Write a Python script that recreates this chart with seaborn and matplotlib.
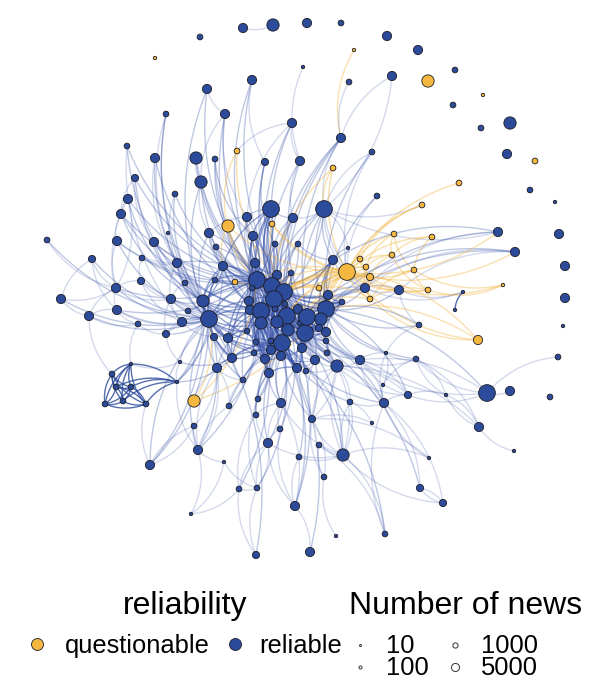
import numpy as np
import pandas as pd
import matplotlib
matplotlib.use("Agg")
import matplotlib.pyplot as plt
from matplotlib.collections import LineCollection
import seaborn as sns

# ─── Style ────────────────────────────────────────────────────────────────────
ORANGE      = "#F4B740"
BLUE        = "#2C4B9B"
EDGE_BLUE   = "#3A55AA"
EDGE_ORANGE = "#F2B23A"
OUTLINE     = "#1C1C24"
TEXT        = "#000000"

# ─── Nodes (layout position in px, number of news) ────────────────────────────
node_x = [
    243, 273, 307, 200, 155, 303, 252, 207, 225, 166,   # 1-10
    292, 127, 237, 155, 196, 215, 265, 300, 135, 201,   # 11-20
    175, 128, 341, 387, 354, 418, 455, 349, 392, 428,   # 21-30
    483, 453, 481, 510, 341, 372, 507, 535, 333, 459,   # 31-40
    530, 377, 121, 271, 247, 293, 228, 272,  47, 117,   # 41-50
    154, 209, 253, 168, 275, 298,  92, 142, 216, 177,   # 51-60
    223, 255, 235, 215, 141, 185, 257, 277, 291, 116,   # 61-70
    272, 284, 252,  61, 171, 203, 274, 249, 117, 188,   # 71-80
    250, 261, 275, 285, 298, 209, 287,  89, 182, 138,   # 81-90
    261, 277, 300, 247, 288, 166, 214, 228, 271, 282,   # 91-100
    256, 305, 254, 271, 232, 265, 180, 217, 297, 269,   # 101-110
    243, 131, 112, 177, 194, 105, 123, 146, 116, 131,   # 111-120
    281, 315, 327, 229, 258, 281, 194, 256, 280, 198,   # 121-130
    268, 150, 224, 299, 239, 257, 295, 191, 256, 408,   # 131-140
    384, 446, 487, 510, 550, 350, 312, 372, 479, 319,   # 141-150
    343, 514, 429, 324, 420, 443, 336, 385, 310, 324,   # 151-160
    422, 555, 394, 432, 498, 559, 348, 515, 333, 360,   # 161-170
    392, 347, 366, 370, 414, 565, 319, 365, 399, 428,   # 171-180
    463, 503, 328, 370, 342, 326, 455, 565, 307, 321,   # 181-190
    319, 326, 419, 563, 326, 478, 386, 337, 360, 416,   # 191-200
    558, 383, 306, 302,                                 # 201-204
]
node_y = [
     28,  25,  23,  37,  58,  67,  80,  89, 114, 114,
    123, 146, 151, 158, 158, 159, 162, 161, 178, 182,
    194, 199,  23,  36,  50,  50,  70,  82,  76,  81,
     95, 105, 128, 123, 138, 152, 154, 161, 168, 183,
    190, 196, 214, 209, 217, 218, 226, 224, 240, 241,
    242, 233, 236, 233, 244, 244, 259, 258, 247, 263,
    266, 263, 282, 280, 281, 283, 280, 275, 273, 288,
    286, 292, 288, 299, 299, 301, 299, 301, 310, 311,
    310, 311, 309, 304, 309, 319, 316, 316, 322, 324,
    323, 322, 323, 331, 330, 334, 337, 338, 341, 343,
    342, 333, 353, 350, 358, 359, 362, 368, 368, 373,
    380, 364, 374, 382, 401, 404, 401, 404, 387, 387,
    356, 360, 353, 406, 399, 403, 426, 415, 429, 450,
    443, 465, 462, 457, 489, 488, 506, 514, 555, 395,
    403, 395, 393, 391, 397, 402, 419, 423, 427, 445,
    455, 451, 458, 477, 488, 503, 536, 534, 552, 209,
    205, 202, 234, 237, 232, 234, 248, 252, 260, 259,
    255, 272, 267, 277, 270, 266, 288, 288, 290, 290,
    292, 285, 295, 299, 302, 309, 310, 298, 317, 319,
    328, 332, 325, 326, 341, 340, 353, 366, 360, 359,
    357, 385, 371, 348,
]
node_news = [
     500, 1500,  500,   60,   10,   10,  500,  500,  500,   60,
     500,   60,   60,  500, 1500,   60,  200,  500,  200, 1500,
      60,  500,   60,  500,   10,  500,   60,   60,  500, 1500,
      10,   60,   60, 1500,  500,   60,  500,   60,   60,   60,
      60,   60,  500, 4000,  500,  500, 1500,   60,   60,  500,
     500,  500,  500,   10,   60,   60,  200,   60,   60,  500,
     500,  500,   60,   60,  200,   60, 4000,  500,   60,  500,
    4000, 4000,   60,  500,  500, 1500, 4000,  500,  500,   60,
     500, 4000,   60,   60,  500, 4000, 4000,  500,  500,   60,
    1500, 1500,   60,   60, 1500,  200,  200,  500,   60, 4000,
      60, 4000,   60,  500,  500,  500,   10,  500,  500,  500,
      60,   10,   60,   10, 1500,   60,   60,   60,   60,   60,
     500,  500,   60,   60,   60,  500,   60,   60,   60,  500,
     500,  500,   10,   60,   60,   60,  500,   10,  200,  200,
     500,   10, 4000,  500,   60,   60,  200,   10,  500,   60,
    1500,   10,   10,   60,  200,  200,   10,   60,  500, 4000,
      60,   10,   60,   60,  500,  500,   10,  500,  500,   60,
      60, 4000,   60,  200,   60,  500,   60,  500,  500,   60,
      10,   10,  500,   60,   60, 4000,   10,  500, 4000, 1500,
     200,  500,   60,   10,   60,  500,   10, 1500,  500,   60,
      60,   10,   60,  500,
]
questionable_ids = [5, 13, 25, 30, 31, 38, 39, 40, 47, 48, 63, 115, 161, 163,
                    164, 170, 171, 172, 173, 174, 175, 177, 180, 182, 184, 196]

# ─── Links (node -> linked nodes) ─────────────────────────────────────────────
links = {
    1: [2], 6: [18], 7: [17, 72, 67], 8: [9, 67, 86], 9: [20, 82, 45, 71],
    10: [60, 86, 76], 11: [18, 45, 13, 72, 77], 12: [76, 89, 67],
    13: [47, 72], 14: [76, 60, 82], 15: [20, 71, 67], 16: [67, 53, 77],
    17: [72, 55, 87], 18: [46, 77, 189], 19: [43, 67, 51, 86],
    20: [52, 71, 86, 82], 21: [60, 67, 76], 22: [43, 70, 76, 67],
    25: [35], 28: [35], 29: [35], 35: [160, 189, 72, 77, 87],
    36: [160, 172, 186], 39: [172, 160, 71], 40: [172], 42: [172, 186],
    43: [50, 76, 67, 82], 44: [71, 67, 45, 46, 53, 77, 61, 87, 82, 72],
    45: [53, 67, 52, 77], 46: [72, 77, 160, 55, 87], 47: [172, 61, 67, 71],
    48: [172, 174, 72], 49: [70, 86], 50: [70, 60, 86, 67], 51: [60, 76, 67, 82],
    52: [61, 67, 76, 82], 53: [67, 71, 62, 82], 54: [60], 55: [71, 72],
    56: [72, 77, 169], 57: [70, 74, 79, 86], 58: [65, 60, 67], 59: [61, 67],
    60: [75, 76, 86, 67, 66, 82], 61: [67, 76, 71, 86, 82], 62: [67, 71, 72, 77, 68, 73, 78],
    63: [172, 67], 64: [76, 67, 86], 65: [70, 75, 89, 82], 66: [76, 86, 75],
    67: [71, 72, 77, 82, 86, 87, 91, 92, 95, 100, 102, 189, 78, 81, 62, 68, 73,
         98, 53, 61, 64, 59, 44, 76, 60, 52, 45, 94, 101, 104, 105, 106, 110],
    68: [71, 72, 77, 87, 82], 69: [72, 77, 189], 70: [79, 88, 75, 86, 22, 67],
    71: [72, 77, 82, 87, 91, 92, 95, 100, 102, 186, 189, 169, 183, 76, 53, 55,
         68, 69, 83, 84, 85, 93, 99, 104, 106, 109, 121, 204, 185, 178],
    72: [77, 82, 87, 92, 95, 100, 102, 186, 189, 190, 183, 160, 56, 69, 85,
         93, 99, 101, 104, 109, 121, 122, 123, 204, 185, 169, 178],
    73: [77, 82], 74: [70, 88, 86], 75: [76, 86, 89, 96, 82],
    76: [86, 82, 77, 91, 98, 61, 100, 105],
    77: [82, 87, 91, 92, 95, 100, 102, 189, 186, 192, 198, 73, 78, 81, 83, 84,
         94, 99, 101, 103, 104, 106, 109, 110, 121, 204],
    78: [82, 86, 91, 81, 94], 79: [88, 89, 86, 90, 67], 80: [86, 76], 81: [82, 91, 98],
    82: [87, 91, 92, 95, 100, 102, 86, 104, 106, 105, 189, 94, 97, 98, 99,
         101, 103, 108, 110, 111, 121],
    83: [87, 92], 84: [87, 72], 85: [87, 189, 102],
    86: [91, 98, 100, 105, 108, 89, 97, 130, 80, 94, 96, 103, 107, 111, 132],
    87: [92, 95, 100, 102, 189, 190, 186, 198, 109, 93, 99, 104, 106, 121,
         122, 123, 183, 191, 192, 195, 204],
    88: [90, 113, 86], 89: [86, 96, 97], 90: [96, 112],
    91: [92, 100, 104, 106, 95, 94, 101],
    92: [95, 100, 102, 109, 104], 93: [95, 102], 94: [98, 104],
    95: [100, 102, 109, 189, 121, 106], 96: [107, 86], 97: [105, 108],
    98: [105, 104, 100, 94, 97], 99: [100, 104],
    100: [102, 104, 106, 109, 110, 121, 131, 126, 103, 105, 108, 111, 122,
          124, 125, 128, 141, 146, 147],
    101: [104, 100],
    102: [189, 109, 122, 198, 190, 147, 123, 183, 185, 186, 191, 192, 195,
          199, 203, 204],
    103: [106, 105], 104: [106, 110, 121, 103, 99], 105: [108, 111, 86, 103],
    106: [110, 111, 121, 103], 107: [114, 105], 108: [111, 130, 115],
    109: [122, 110, 126, 121, 204], 110: [125, 126, 128], 111: [124],
    112: [116, 117, 118, 119, 120, 113, 107],
    113: [116, 117, 119, 120, 118],
    114: [118, 105, 86, 76, 61, 130, 112, 120, 117, 119],
    115: [86, 172, 67], 116: [117, 119, 120, 118], 117: [118, 119, 120],
    118: [119, 120, 132], 119: [120], 121: [126, 122, 204],
    122: [198, 147, 189], 123: [198, 190], 124: [108, 130, 82],
    125: [110, 128, 136, 77], 126: [128, 129, 131, 151], 127: [108, 130, 132],
    128: [131, 135], 129: [131, 137, 87], 130: [133, 108, 86, 82],
    131: [136, 135, 137, 151, 100], 132: [86, 76, 127], 133: [136],
    134: [137, 151, 100], 135: [136, 139, 82], 136: [139, 131, 100],
    137: [126, 100, 87], 138: [133, 130, 135], 139: [86],
    140: [141, 143, 198, 199, 186], 141: [199, 153, 158, 198, 102],
    142: [140, 149, 200], 143: [144, 199, 186],
    146: [198, 151, 141], 147: [151, 154, 102, 198], 148: [147, 146],
    149: [142, 152, 200, 198], 150: [151, 154], 151: [146, 198, 100, 156, 87],
    153: [147, 151], 154: [157, 147], 155: [156, 141, 102], 156: [155, 141],
    158: [150, 151, 100], 159: [137, 100],
    160: [169, 172, 178, 189, 161, 29, 165, 186, 71, 72], 161: [172, 170],
    163: [172, 173, 175, 171], 164: [172, 171, 175], 165: [169, 178, 186],
    167: [169, 160, 172], 168: [178, 179, 183, 186],
    169: [189, 183, 178, 186, 190], 170: [172, 174, 173],
    171: [172, 173, 174, 180],
    172: [173, 174, 177, 184, 180, 175, 71, 72, 77, 87, 186, 189, 196,
          182, 168, 165, 67, 179, 183, 82, 102],
    173: [174, 184, 177, 77], 174: [184, 177, 180, 72], 175: [180, 184, 182],
    177: [72, 77, 87, 71], 178: [183, 186, 179, 181, 189], 179: [181, 193, 178],
    180: [184, 182], 181: [187], 183: [186, 189, 190, 185], 184: [177, 196, 87],
    185: [186, 190, 192],
    186: [189, 190, 191, 192, 198, 199, 195, 183, 185, 178, 179, 193, 197, 200],
    189: [190, 191, 192, 198, 122, 183, 185, 195, 199, 203, 204, 123],
    190: [192, 195, 199, 191, 204], 191: [192],
    192: [195, 198, 199, 204], 193: [186, 197], 195: [198, 199], 196: [172, 186],
    197: [199, 200, 141], 198: [199, 151, 140, 147], 199: [200, 140, 141, 143],
    200: [202, 142, 143], 201: [143], 202: [141, 197], 203: [198, 122],
    204: [102, 189, 87],
}
strong_nodes = [112, 113, 114, 116, 117, 118, 119, 120, 181, 187]
core_nodes = [44, 53, 55, 61, 62, 64, 67, 68, 69, 71, 72, 73, 76, 77, 78, 81,
              82, 83, 84, 85, 86, 87, 91, 92, 93, 94, 95, 98, 99, 100, 101,
              102, 103, 104, 105, 106, 109, 110, 121, 169, 183, 185, 186, 189,
              190, 191, 192, 204]

# ─── Frames ───────────────────────────────────────────────────────────────────
nodes = pd.DataFrame({"x": node_x, "y": node_y, "news": node_news})
nodes["id"] = np.arange(1, len(nodes) + 1)
nodes["reliability"] = np.where(nodes["id"].isin(questionable_ids),
                                "questionable", "reliable")

fig = plt.figure(figsize=(6.14, 6.8), dpi=100)
sns.set_style("white")
plt.rcParams["font.family"] = ["Liberation Sans", "DejaVu Sans"]
ax = fig.add_axes([0, 0, 1, 1])

# curved edges (quadratic arcs)
t = np.linspace(0, 1, 26)[:, None]
segs, cols = [], []
for src, targets in links.items():
    p0 = nodes.loc[src - 1, ["x", "y"]].to_numpy(float)
    q = nodes.loc[src - 1, "reliability"] == "questionable"
    for dst in targets:
        p2 = nodes.loc[dst - 1, ["x", "y"]].to_numpy(float)
        d = p2 - p0
        ctrl = (p0 + p2) / 2 + 0.2 * np.array([-d[1], d[0]])
        segs.append((1 - t) ** 2 * p0 + 2 * (1 - t) * t * ctrl + t ** 2 * p2)
        n_core = (src in core_nodes) + (dst in core_nodes)
        if src in strong_nodes and dst in strong_nodes:
            cols.append(matplotlib.colors.to_rgba(BLUE, 0.8))
        elif q:
            cols.append(matplotlib.colors.to_rgba(EDGE_ORANGE, 0.4))
        elif n_core == 2:
            cols.append(matplotlib.colors.to_rgba(EDGE_BLUE, 0.55))
        elif n_core == 1:
            cols.append(matplotlib.colors.to_rgba(EDGE_BLUE, 0.32))
        else:
            cols.append(matplotlib.colors.to_rgba(EDGE_BLUE, 0.22))
ax.add_collection(LineCollection(segs, colors=cols, linewidths=1.0, zorder=1))

size_map = {10: 6, 60: 17, 200: 27, 500: 44, 1500: 78, 4000: 145}
sns.scatterplot(data=nodes, x="x", y="y", hue="reliability", size="news",
                sizes=size_map,
                palette={"questionable": ORANGE, "reliable": BLUE},
                edgecolor=OUTLINE, linewidth=0.6, legend=False, ax=ax, zorder=3)

ax.set_xlim(0, 614)
ax.set_ylim(680, 0)
ax.set_axis_off()

# ─── Legend ───────────────────────────────────────────────────────────────────
ax.text(185, 614, "reliability", fontsize=23, ha="center", va="baseline", color=TEXT)
ax.text(466, 614, "Number of news", fontsize=23, ha="center", va="baseline", color=TEXT)

ax.scatter([37], [644], s=74, color=ORANGE, edgecolor=OUTLINE, linewidth=0.6)
ax.text(65, 653, "questionable", fontsize=18.4, va="baseline", color=TEXT)
ax.scatter([235], [644], s=74, color=BLUE, edgecolor=OUTLINE, linewidth=0.6)
ax.text(259, 653, "reliable", fontsize=18.4, va="baseline", color=TEXT)

size_labels = ["10", "100", "1000", "5000"]
key_sizes = [2, 5, 14, 34]
key_pos = [(360, 645), (360, 667), (455, 645), (455, 667)]
for lab, ks, (kx, ky) in zip(size_labels, key_sizes, key_pos):
    ax.scatter([kx], [ky], s=ks, color="white", edgecolor="#333333", linewidth=0.7)
    ax.text(kx + 26, ky + 8, lab, fontsize=18.4, va="baseline", color=TEXT)

fig.savefig("out.png", dpi=100)
